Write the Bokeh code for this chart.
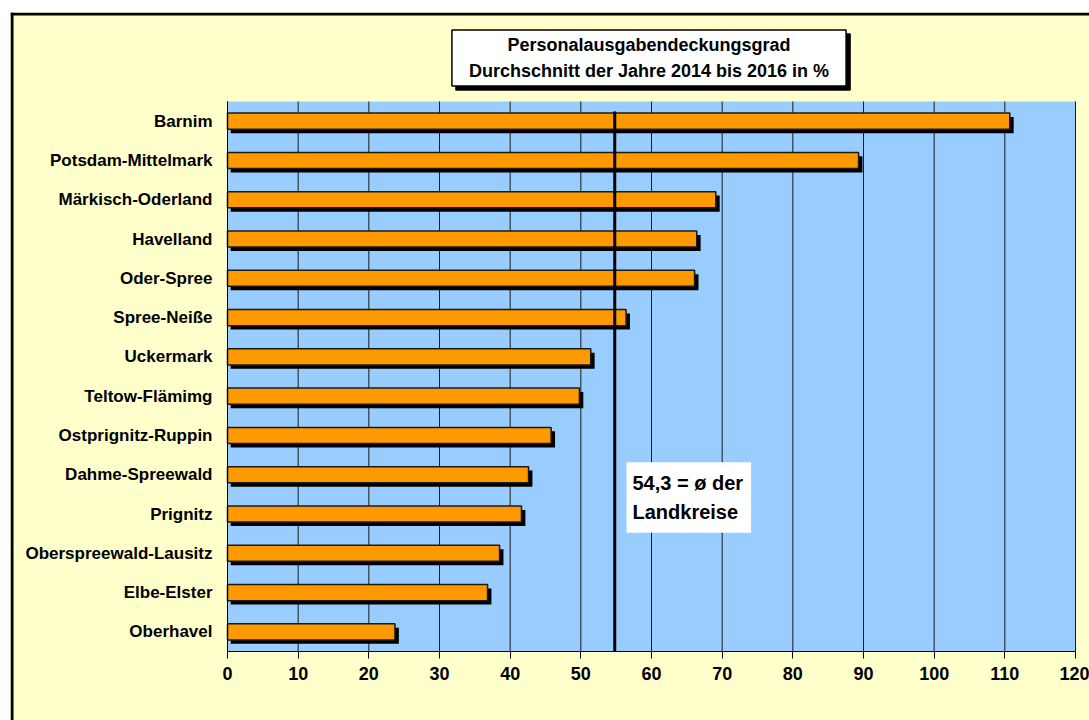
from bokeh.plotting import figure
from bokeh.models import Range1d, Label, FixedTicker, ColumnDataSource, Span
from bokeh.transform import dodge
from bokeh.embed import file_html
from bokeh.resources import INLINE

kreise = ["Barnim", "Potsdam-Mittelmark", "Märkisch-Oderland", "Havelland", "Oder-Spree",
          "Spree-Neiße", "Uckermark", "Teltow-Flämimg", "Ostprignitz-Ruppin", "Dahme-Spreewald",
          "Prignitz", "Oberspreewald-Lausitz", "Elbe-Elster", "Oberhavel"]
werte = [110.7, 89.3, 69.1, 66.4, 66.1, 56.4, 51.4, 49.8, 45.8, 42.6, 41.6, 38.5, 36.8, 23.7]
x_ticks = [0, 10, 20, 30, 40, 50, 60, 70, 80, 90, 100, 110, 120]
durchschnitt_linie = 54.8
durchschnitt_text = "54,3 = ø der\nLandkreise"
titel = "Personalausgabendeckungsgrad\nDurchschnitt der Jahre 2014 bis 2016 in %"

FONT = "Liberation Sans"
W, H = 1089, 720
# layout (pixels)
FL, FT = 10, 12                 # frame origin (white page strip outside)
PX0, PX1 = 227, 1075            # plot-area left / right
PY_TOP, PY_BOT = 101, 651       # plot-area top / bottom

n = len(kreise)
pos = [n - i for i in range(n)]          # Barnim on top
y_lo, y_hi = 0.5, n + 0.5
xs = (PX1 - PX0) / (x_ticks[-1] - x_ticks[0])
ys = (PY_BOT - PY_TOP) / (y_hi - y_lo)

def dx(px):
    return x_ticks[0] + (px - PX0) / xs

def dy(py):
    return y_lo + (PY_BOT - py) / ys

src = ColumnDataSource(dict(y=pos, val=werte))

p = figure(width=W, height=H, output_backend="svg", toolbar_location=None,
           x_range=Range1d(dx(FL), dx(W)), y_range=Range1d(dy(H), dy(FT)),
           min_border_left=FL, min_border_top=FT, min_border_right=0, min_border_bottom=0)
p.background_fill_color = "#FFFFCC"
p.border_fill_color = "white"
p.outline_line_color = None
p.grid.visible = False

# plot area
p.quad(left=[x_ticks[0]], right=[x_ticks[-1]], bottom=[y_lo], top=[y_hi],
       fill_color="#99CCFF", line_color=None)
# vertical grid lines
p.segment(x0=x_ticks, x1=x_ticks, y0=[y_lo] * len(x_ticks), y1=[y_hi] * len(x_ticks),
          line_color="#1a1a1a", line_width=1)

# axes drawn inside the frame at fixed positions
p.xaxis.fixed_location = y_lo
p.xaxis.bounds = (x_ticks[0], x_ticks[-1])
p.xaxis.ticker = FixedTicker(ticks=x_ticks)
p.xaxis.axis_line_color = "black"
p.xaxis.major_tick_line_color = "black"
p.xaxis.major_tick_out = 7
p.xaxis.major_tick_in = 0
p.xaxis.minor_tick_line_color = None
p.xaxis.major_label_text_font = FONT
p.xaxis.major_label_text_font_style = "bold"
p.xaxis.major_label_text_font_size = "18px"
p.xaxis.major_label_text_color = "black"
p.xaxis.major_label_standoff = 8

p.yaxis.fixed_location = x_ticks[0]
p.yaxis.bounds = (y_lo, y_hi)
p.yaxis.ticker = FixedTicker(ticks=pos)
p.yaxis.major_label_overrides = {int(k): name for k, name in zip(pos, kreise)}
p.yaxis.axis_line_color = "black"
p.yaxis.major_tick_line_color = None
p.yaxis.major_tick_out = 0
p.yaxis.major_tick_in = 0
p.yaxis.minor_tick_line_color = None
p.yaxis.major_label_text_font = FONT
p.yaxis.major_label_text_font_style = "bold"
p.yaxis.major_label_text_font_size = "17px"
p.yaxis.major_label_text_color = "black"
p.yaxis.major_label_standoff = 15

# shadows
p.hbar(y=dodge("y", -0.1), left=0.45, right=dodge("val", 0.55),
       height=0.41, source=src, fill_color="black", line_color=None)
# bars
p.hbar(y="y", left=0, right="val", height=0.41, source=src,
       fill_color="#FF9900", line_color="#1a1a1a", line_width=1.5)

# average line
p.segment(x0=[durchschnitt_linie], y0=[y_lo], x1=[durchschnitt_linie], y1=[dy(111)],
          line_color="black", line_width=3)

# annotation
p.add_layout(Label(x=dx(626), y=dy(497), text=durchschnitt_text, text_font=FONT,
                   text_font_style="bold", text_font_size="20px", text_color="black",
                   text_align="left", text_baseline="middle", text_line_height=1.3,
                   background_fill_color="white",
                   padding=dict(left=6, right=8, top=10, bottom=10)))

# title with shadow
for off, bg in ((4, "black"), (0, "white")):
    p.add_layout(Label(x=dx(648.5), y=dy(57.5), text=titel, text_font=FONT, text_font_style="bold",
                       text_font_size="18px", text_color="black", text_align="center",
                       text_baseline="middle", text_line_height=1.3,
                       background_fill_color=bg, border_line_color="black", border_line_width=1.5,
                       x_offset=off, y_offset=-off,
                       padding=dict(left=17, right=17, top=5, bottom=5)))

# outer chart border (left and top edges visible)
p.add_layout(Span(location=dx(11.5), dimension="height", line_color="black", line_width=3))
p.add_layout(Span(location=dy(13.5), dimension="width", line_color="black", line_width=3))

open("out.html", "w").write(file_html(p, INLINE))
